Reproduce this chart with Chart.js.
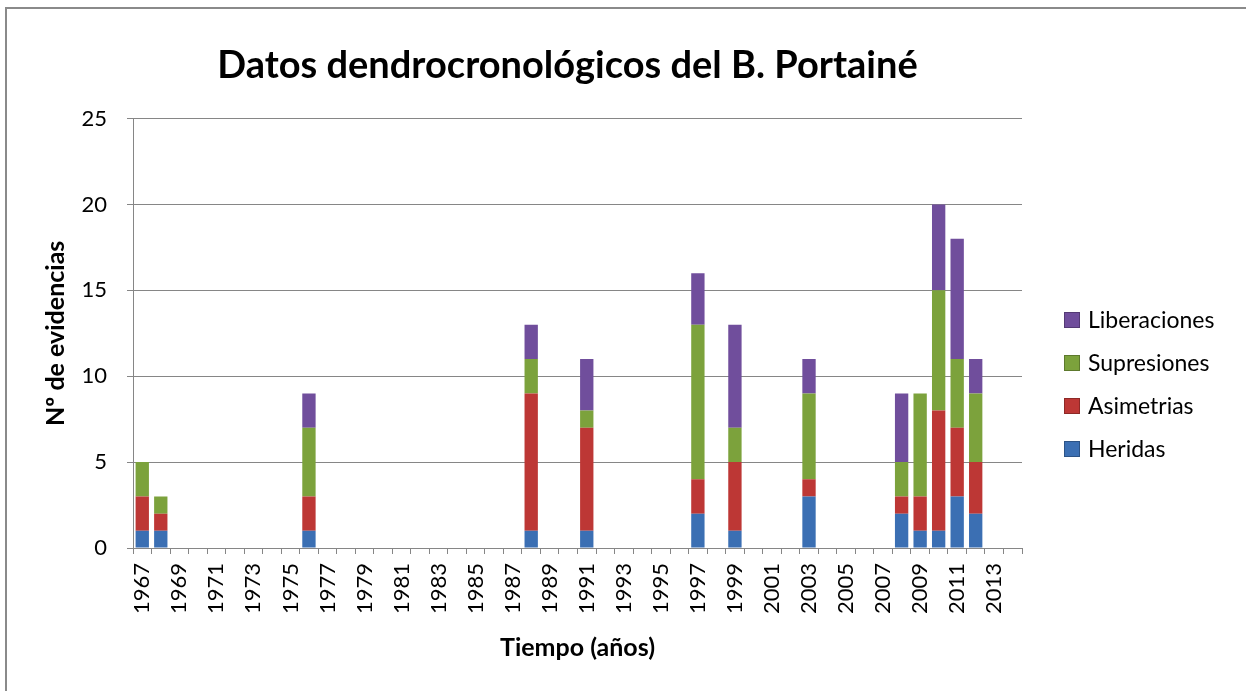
<!DOCTYPE html>
<html>
<head>
<meta charset="utf-8">
<script src="https://cdn.jsdelivr.net/npm/chart.js@4.4.1/dist/chart.umd.min.js"></script>
<style>
html, body { margin: 0; padding: 0; background: #fff; overflow: hidden; }
#wrap { position: relative; width: 1246px; height: 691px; }
#frame { position: absolute; left: 5px; top: 7px; width: 1300px; height: 800px; border: 2px solid #8a8a8a; box-sizing: border-box; }
canvas { position: absolute; left: 0; top: 0; }
</style>
</head>
<body>
<div id="wrap">
	<div id="frame"></div>
	<canvas id="myChart" width="1246" height="691"></canvas>
</div>
<script>
// años 1967 - 2014
var years = [
	'1967', '1968', '1969', '1970', '1971', '1972', '1973', '1974', '1975', '1976', '1977', '1978',
	'1979', '1980', '1981', '1982', '1983', '1984', '1985', '1986', '1987', '1988', '1989', '1990',
	'1991', '1992', '1993', '1994', '1995', '1996', '1997', '1998', '1999', '2000', '2001', '2002',
	'2003', '2004', '2005', '2006', '2007', '2008', '2009', '2010', '2011', '2012', '2013', '2014'
];

var heridas = [
	1, 1, 0, 0, 0, 0, 0, 0, 0, 1, 0, 0,
	0, 0, 0, 0, 0, 0, 0, 0, 0, 1, 0, 0,
	1, 0, 0, 0, 0, 0, 2, 0, 1, 0, 0, 0,
	3, 0, 0, 0, 0, 2, 1, 1, 3, 2, 0, 0
];

var asimetrias = [
	2, 1, 0, 0, 0, 0, 0, 0, 0, 2, 0, 0,
	0, 0, 0, 0, 0, 0, 0, 0, 0, 8, 0, 0,
	6, 0, 0, 0, 0, 0, 2, 0, 4, 0, 0, 0,
	1, 0, 0, 0, 0, 1, 2, 7, 4, 3, 0, 0
];

var supresiones = [
	2, 1, 0, 0, 0, 0, 0, 0, 0, 4, 0, 0,
	0, 0, 0, 0, 0, 0, 0, 0, 0, 2, 0, 0,
	1, 0, 0, 0, 0, 0, 9, 0, 2, 0, 0, 0,
	5, 0, 0, 0, 0, 2, 6, 7, 4, 4, 0, 0
];

var liberaciones = [
	0, 0, 0, 0, 0, 0, 0, 0, 0, 2, 0, 0,
	0, 0, 0, 0, 0, 0, 0, 0, 0, 2, 0, 0,
	3, 0, 0, 0, 0, 0, 3, 0, 6, 0, 0, 0,
	2, 0, 0, 0, 0, 4, 0, 5, 7, 2, 0, 0
];

var seriesLabels = ['Heridas', 'Asimetrias', 'Supresiones', 'Liberaciones'];
var seriesColors = ['#3b6fb3', '#bd3735', '#7ca23c', '#704e9c'];
var yTicks = [0, 5, 10, 15, 20, 25];

var fontName = 'Lato, "Liberation Sans", sans-serif';

function getDataset(values, i) {
	var dataset = {};
	dataset.label = seriesLabels[i];
	dataset.data = values;
	dataset.backgroundColor = seriesColors[i];
	dataset.borderWidth = 0;
	dataset.barPercentage = 0.72;
	dataset.categoryPercentage = 1;
	return dataset;
}

// leyenda a la derecha, en orden inverso como en Excel
var sideLegend = {
	id: 'sideLegend',
	afterLayout: function (chart) {
		// el título de Excel está un poco a la izquierda del centro del área
		if (chart.titleBlock) {
			chart.titleBlock.left -= 10;
			chart.titleBlock.right -= 10;
		}
	},
	afterDraw: function (chart) {
		var ctx = chart.ctx;
		var sets = chart.data.datasets;
		ctx.save();
		ctx.font = '23px ' + fontName;
		ctx.textBaseline = 'middle';
		ctx.textAlign = 'left';
		for (var k = 0; k < sets.length; k++) {
			var ds = sets[sets.length - 1 - k];
			var y = 320 + k * 43;
			ctx.fillStyle = ds.backgroundColor;
			ctx.fillRect(1064, y - 8, 16, 16);
			ctx.strokeStyle = 'rgba(0,0,0,0.25)';
			ctx.lineWidth = 1;
			ctx.strokeRect(1064.5, y - 7.5, 15, 15);
			ctx.fillStyle = '#000';
			ctx.fillText(ds.label, 1088, y + 1);
		}
		ctx.restore();
	}
};

var data = {
	labels: years,
	datasets: [
		getDataset(heridas, 0),
		getDataset(asimetrias, 1),
		getDataset(supresiones, 2),
		getDataset(liberaciones, 3)
	]
};

var myChart = new Chart(document.getElementById('myChart').getContext('2d'), {
	type: 'bar',
	data: data,
	plugins: [sideLegend],
	options: {
		responsive: false,
		animation: false,
		layout: { padding: { left: 41, right: 224, top: 0, bottom: 0 } },
		plugins: {
			legend: { display: false },
			tooltip: { enabled: false },
			title: {
				display: true,
				fullSize: false,
				text: 'Datos dendrocronológicos del B. Portainé',
				color: '#000',
				font: { family: fontName, size: 38, weight: 'bold' },
				padding: { top: 43, bottom: 30 }
			}
		},
		scales: {
			x: {
				stacked: true,
				afterFit: function (scale) { scale.height = 143; },
				grid: { offset: true, drawOnChartArea: false, drawTicks: true, tickLength: 6, color: '#868686', lineWidth: 1 },
				border: { color: '#868686', width: 1 },
				ticks: {
					autoSkip: false,
					minRotation: 90,
					maxRotation: 90,
					padding: 9,
					color: '#000',
					font: { family: fontName, size: 22 },
					callback: function (value, index) {
						return index % 2 === 0 ? years[index] : '';
					}
				},
				title: {
					display: true,
					text: 'Tiempo (años)',
					color: '#000',
					font: { family: fontName, size: 25, weight: 'bold' },
					padding: { top: 0, bottom: 28 }
				}
			},
			y: {
				stacked: true,
				min: yTicks[0],
				max: yTicks[yTicks.length - 1],
				afterFit: function (scale) { scale.width = 92; },
				afterBuildTicks: function (scale) {
					scale.ticks = yTicks.map(function (v) { return { value: v }; });
				},
				grid: { color: '#868686', lineWidth: 1, drawTicks: true, tickLength: 6 },
				border: { color: '#868686', width: 1 },
				ticks: {
					padding: 20,
					color: '#000',
					font: { family: fontName, size: 22 }
				},
				title: {
					display: true,
					text: 'Nº de evidencias',
					color: '#000',
					font: { family: fontName, size: 25, weight: 'bold' },
					padding: { top: 0, bottom: 0 }
				}
			}
		}
	}
});
</script>
</body>
</html>
